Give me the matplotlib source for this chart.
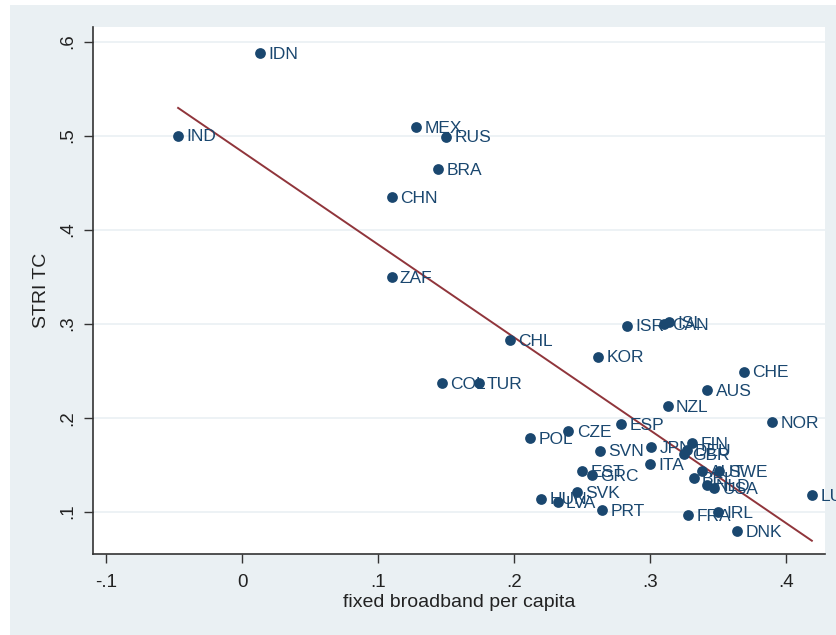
import numpy as np
import matplotlib
matplotlib.use("Agg")
import matplotlib.pyplot as plt
from matplotlib.patches import Rectangle

plt.rcParams['font.family'] = ['Liberation Sans', 'DejaVu Sans']

# country codes, fixed broadband per capita, STRI TC
countries = ['IDN', 'IND', 'MEX', 'RUS', 'BRA', 'CHN', 'ZAF', 'CHL', 'COL', 'TUR',
             'ISR', 'CAN', 'ISL', 'KOR', 'CHE', 'AUS', 'NZL', 'NOR', 'ESP', 'CZE',
             'POL', 'SVN', 'JPN', 'FIN', 'DEU', 'GBR', 'ITA', 'EST', 'GRC', 'AUT',
             'SWE', 'BEL', 'NLD', 'USA', 'SVK', 'HUN', 'LVA', 'PRT', 'FRA', 'IRL',
             'DNK', 'LUX']
broadband = [0.013, -0.047, 0.128, 0.150, 0.144, 0.110, 0.110, 0.197, 0.147, 0.174,
             0.283, 0.310, 0.314, 0.262, 0.369, 0.342, 0.313, 0.390, 0.279, 0.240,
             0.212, 0.263, 0.301, 0.331, 0.327, 0.325, 0.300, 0.250, 0.257, 0.338,
             0.351, 0.332, 0.342, 0.347, 0.246, 0.220, 0.232, 0.265, 0.328, 0.350,
             0.364, 0.419]
stri_tc = [0.588, 0.500, 0.509, 0.499, 0.464, 0.435, 0.350, 0.283, 0.237, 0.237,
           0.298, 0.300, 0.302, 0.265, 0.249, 0.229, 0.212, 0.195, 0.193, 0.186,
           0.178, 0.165, 0.169, 0.173, 0.166, 0.161, 0.151, 0.143, 0.139, 0.143,
           0.143, 0.136, 0.128, 0.125, 0.121, 0.114, 0.110, 0.102, 0.096, 0.100,
           0.079, 0.118]

navy = '#1a476f'
maroon = '#90353b'
bg = '#eaf0f3'

x = np.array(broadband)
y = np.array(stri_tc)

fig = plt.figure(figsize=(8.36, 6.35), dpi=100, facecolor=bg)
# thin white border at left and top of the graph region
fig.patches.append(Rectangle((0, 0), 10 / 836, 1, transform=fig.transFigure,
                             facecolor='white', edgecolor='none'))
fig.patches.append(Rectangle((0, 1 - 5 / 635), 1, 5 / 635, transform=fig.transFigure,
                             facecolor='white', edgecolor='none'))

ax = fig.add_axes([0.1109, 0.1276, 0.876, 0.830])
ax.set_facecolor('white')

ax.set_ylim(0.055, 0.6156)
ax.set_xlim(-0.1098, 0.4287)
ax.set_yticks([0.1, 0.2, 0.3, 0.4, 0.5, 0.6])
ax.set_yticklabels(['.1', '.2', '.3', '.4', '.5', '.6'], rotation=90, va='center')
ax.set_xticks([-0.1, 0, 0.1, 0.2, 0.3, 0.4])
ax.set_xticklabels(['-.1', '0', '.1', '.2', '.3', '.4'])
ax.tick_params(labelsize=13.5, length=6.5, width=1, color='#333333', labelcolor='#222222')
ax.tick_params(axis='x', pad=8)
ax.tick_params(axis='y', pad=5)
ax.grid(axis='y', color=bg, lw=1.2)
ax.set_axisbelow(True)

for s in ['top', 'right']:
    ax.spines[s].set_visible(False)
for s in ['left', 'bottom']:
    ax.spines[s].set_linewidth(1.2)
    ax.spines[s].set_color('#333333')

ax.scatter(x, y, s=60, color=navy, zorder=3, clip_on=False, linewidths=0)
for name, xi, yi in zip(countries, x, y):
    ax.annotate(name, (xi, yi), xytext=(6, -1), textcoords='offset points',
                va='center', ha='left', fontsize=12.5, color=navy, zorder=4,
                annotation_clip=False)

# linear fit over the data range
b, a = np.polyfit(x, y, 1)
xs = np.array([x.min(), x.max()])
ax.plot(xs, a + b * xs, color=maroon, lw=1.4, zorder=2)

ax.set_xlabel('fixed broadband per capita', fontsize=14, labelpad=2, color='#222222')
ax.set_ylabel('STRI TC', fontsize=14, labelpad=7, color='#222222')

fig.savefig('out.png', dpi=100, facecolor=bg)
